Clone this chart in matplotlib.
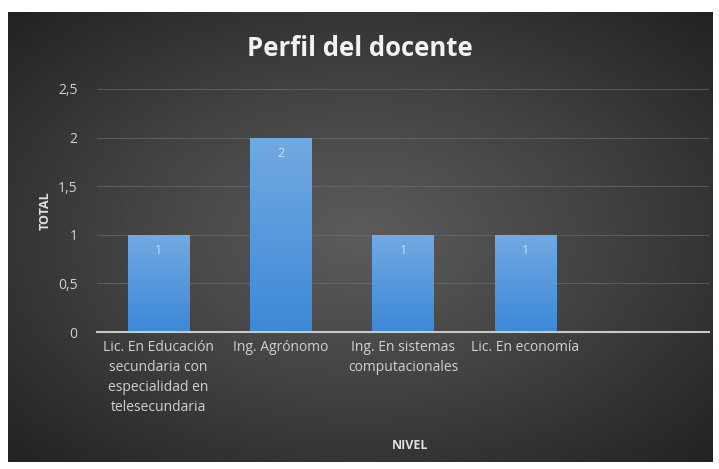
import numpy as np
import matplotlib.pyplot as plt
from matplotlib.colors import LinearSegmentedColormap

# data
categorias = ['Lic. En Educación\nsecundaria con\nespecialidad en\ntelesecundaria',
              'Ing. Agrónomo',
              'Ing. En sistemas\ncomputacionales',
              'Lic. En economía',
              '']
totales = [1, 2, 1, 1, 0]
etiquetas = ['1', '2', '1', '1', '']
yticks = [0, 0.5, 1, 1.5, 2, 2.5]
ytick_labels = ['0', '0,5', '1', '1,5', '2', '2,5']

plt.rcParams['font.family'] = ['Open Sans', 'DejaVu Sans']

fig = plt.figure(figsize=(7.19, 4.69), dpi=100)
fig.patch.set_facecolor('white')

# dark radial background
bg = fig.add_axes([8 / 719, 7 / 469, 705 / 719, 450 / 469])
yy, xx = np.mgrid[-1:1:300j, -1:1:400j]
r = np.sqrt(xx ** 2 + yy ** 2) / np.sqrt(2)
bg_cmap = LinearSegmentedColormap.from_list('bg', ['#5c5c5c', '#414141', '#222222'])
bg.imshow(r, cmap=bg_cmap, aspect='auto', extent=[0, 1, 0, 1])
bg.set_axis_off()

# plot area
ax = fig.add_axes([97 / 719, (469 - 332) / 469, 612 / 719, 243 / 469])
ax.patch.set_alpha(0)

x = np.arange(len(categorias))
bars = ax.bar(x, totales, width=0.5, color='#5b9bd5', zorder=3)

bar_cmap = LinearSegmentedColormap.from_list('barra', ['#3d88d6', '#72aae2'])
grad = np.linspace(0, 1, 256).reshape(-1, 1)
for b in bars:
    if b.get_height() == 0:
        continue
    im = ax.imshow(grad, cmap=bar_cmap, origin='lower', aspect='auto',
                   extent=[b.get_x(), b.get_x() + b.get_width(), 0, b.get_height()],
                   zorder=4)
    im.set_clip_path(b)

for xi, v, t in zip(x, totales, etiquetas):
    if t:
        ax.text(xi, v - 0.16, t, ha='center', va='center', color='#c8dcf2',
                fontsize=9, zorder=5)

ax.set_xlim(-0.5, len(categorias) - 0.5)
ax.set_ylim(0, 2.5)
ax.set_yticks(yticks)
ax.set_yticklabels(ytick_labels, color='#d0d0d0', fontsize=10)
ax.set_xticks(x)
ax.set_xticklabels(categorias, color='#d0d0d0', fontsize=10, linespacing=1.45)
ax.tick_params(length=0, pad=6)
ax.tick_params(axis='y', pad=14)
ax.grid(axis='y', color='#707070', linewidth=0.8, alpha=0.6, zorder=0)
for s in ['top', 'right', 'left']:
    ax.spines[s].set_visible(False)
ax.spines['bottom'].set_color('#c8c8c8')
ax.spines['bottom'].set_linewidth(1.5)
ax.spines['bottom'].set_zorder(6)

fig.text(360 / 719, 1 - 48 / 469, 'Perfil del docente', ha='center', va='center',
         color='#f2f2f2', fontsize=18.5, fontweight='bold')
fig.text(45 / 719, 1 - 211 / 469, 'TOTAL', ha='center', va='center', rotation=90,
         color='#e0e0e0', fontsize=9, fontweight='bold')
fig.text(410 / 719, 1 - 445 / 469, 'NIVEL', ha='center', va='center',
         color='#e0e0e0', fontsize=9, fontweight='bold')

fig.savefig('out.png', dpi=100, facecolor='white')
